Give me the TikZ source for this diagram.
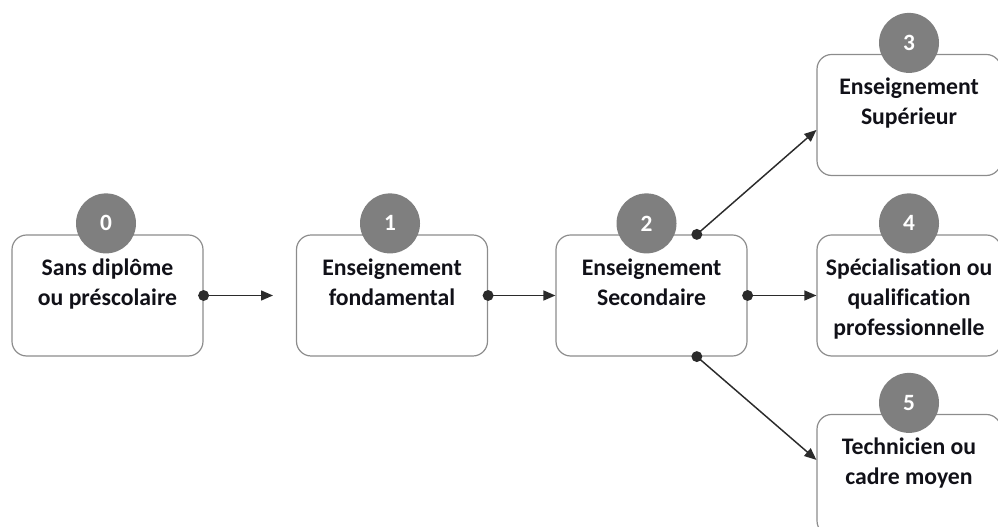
\documentclass[tikz,border=0pt]{standalone}
\usepackage{fontspec}
\setmainfont[Ligatures=NoCommon]{Carlito}
\usetikzlibrary{arrows.meta,positioning}
\definecolor{boxgray}{HTML}{8C8C8C}
\definecolor{badgegray}{HTML}{7F7F7F}
\definecolor{linkgray}{HTML}{2B2B2B}
\definecolor{textdark}{HTML}{111118}
\begin{document}
\begin{tikzpicture}[x=0.75pt,y=0.75pt,
  stage/.style={draw=boxgray,line width=0.9pt,rounded corners=11pt,minimum width=143.25pt,minimum height=90.75pt,inner sep=0pt},
  caption/.style={align=center,inner sep=0pt,text=textdark,font=\fontsize{17.8}{22.5}\selectfont\bfseries},
  badge/.style={circle,fill=badgegray,minimum size=45pt,inner sep=0pt,text=white,font=\fontsize{17.5}{20}\selectfont\bfseries},
  link/.style={draw=linkgray,line width=1.1pt,-{Triangle[length=9pt,width=7.5pt]}},
  dot/.style={fill=linkgray}]
\clip (0,0) rectangle (998,527);
% stages
\node[stage] (b0) at (107.5,231.5) {};
\node[stage] (b1) at (392,231.5) {};
\node[stage] (b2) at (651.5,231.5) {};
\node[stage,minimum width=138pt] (b3) at (909,412) {};
\node[stage,minimum width=138pt] (b4) at (909,231.5) {};
\node[stage,minimum width=138pt] (b5) at (909,52) {};
\node[caption,below=18pt of b0.north] (t0) {Sans diplôme\\ou préscolaire};
\node[caption,below=18pt of b1.north] (t1) {Enseignement\\fondamental};
\node[caption,below=18pt of b2.north] (t2) {Enseignement\\Secondaire};
\node[caption,below=18pt of b3.north] (t3) {Enseignement\\Supérieur};
\node[caption,below=18pt of b4.north] (t4) {Spécialisation ou\\qualification\\professionnelle};
\node[caption,below=18pt of b5.north] (t5) {Technicien ou\\cadre moyen};
% numbers
\node[badge] (n0) at ([shift={(-1.5,11)}]b0.north) {0};
\node[badge] (n1) at ([shift={(-2,11)}]b1.north) {1};
\node[badge] (n2) at ([shift={(-5,11)}]b2.north) {2};
\node[badge] (n3) at ([shift={(0,11)}]b3.north) {3};
\node[badge] (n4) at ([shift={(0,11)}]b4.north) {4};
\node[badge] (n5) at ([shift={(0,11)}]b5.north) {5};
% links
\coordinate (gap) at (273,231.5);
\coordinate (up) at ([xshift=34pt]b2.north);
\coordinate (down) at ([xshift=34pt]b2.south);
\draw[link] (b0.east) -- (gap);
\draw[link] (b1.east) -- (b2.west);
\draw[link] (b2.east) -- (b4.west);
\draw[link] (up) -- ([shift={(0,-15)}]b3.west);
\draw[link] (down) -- ([shift={(0,-46)}]b5.north west);
\foreach \p in {b0.east,b1.east,b2.east,up,down}
  \fill[dot] (\p) circle[radius=4.1pt];
\end{tikzpicture}
\end{document}
